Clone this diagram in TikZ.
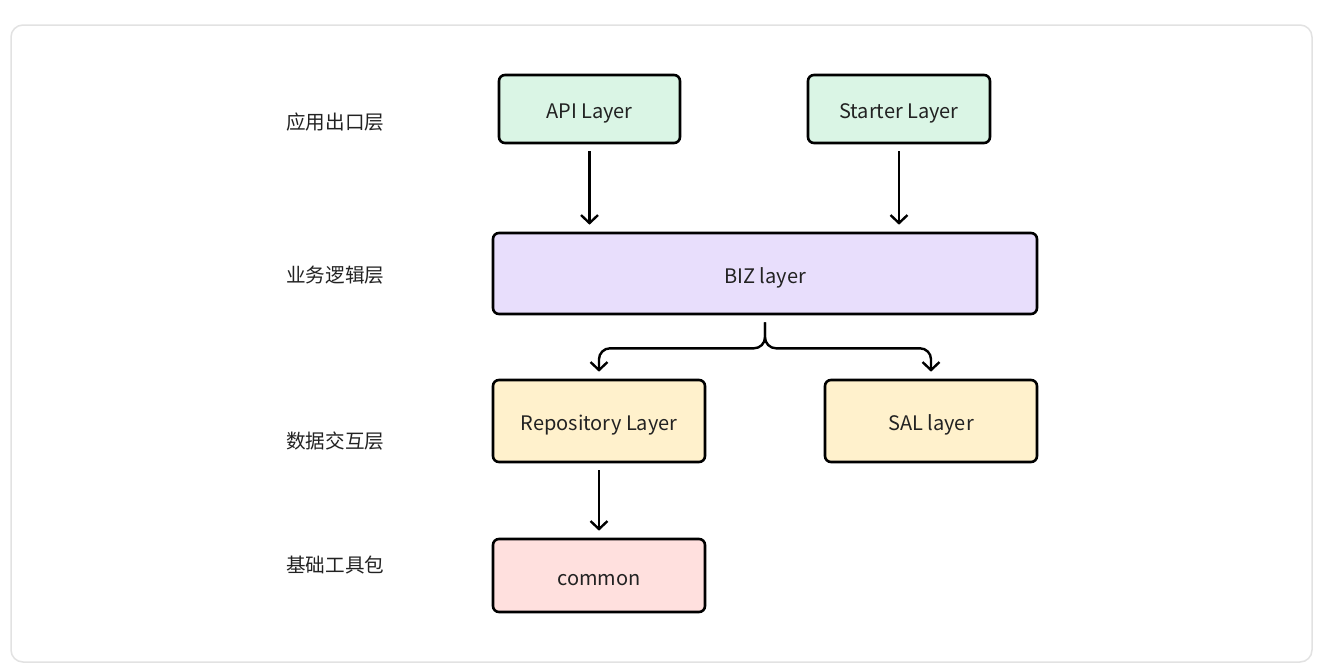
\documentclass[tikz,border=0pt]{standalone}
\usepackage{fontspec}
\setmainfont{Noto Sans CJK SC}
\usetikzlibrary{arrows.meta}
\definecolor{gfill}{HTML}{DAF5E5}
\definecolor{pfill}{HTML}{E8DEFC}
\definecolor{yfill}{HTML}{FFF1CC}
\definecolor{rfill}{HTML}{FFE0DE}
\definecolor{frame}{HTML}{E2E2E2}
\definecolor{txt}{HTML}{222222}
\tikzset{
  layerbox/.style={draw=black, line width=2.6pt, rounded corners=6pt, inner sep=0pt,
    text height=19pt, text depth=0pt,
    font=\fontsize{20}{24}\selectfont, text=txt},
  sidelabel/.style={anchor=west, inner sep=0pt, font=\fontsize{19.6}{24}\selectfont, text=txt},
  conn/.style={line width=2.4pt, -{Straight Barb[length=8pt,width=17pt,line width=2.4pt]}, shorten <=7pt, shorten >=7pt},
}
\begin{document}
\begin{tikzpicture}[x=1pt,y=-1pt]
\useasboundingbox (0,0) rectangle (1318,670);
\fill[white] (0,0) rectangle (1318,670);
\draw[frame, line width=1.5pt, rounded corners=12pt] (11,25) rectangle (1312,662);

\node[sidelabel] (l1) at (286,122) {应用出口层};
\node[sidelabel] (l2) at (286,275) {业务逻辑层};
\node[sidelabel] (l3) at (286,441) {数据交互层};
\node[sidelabel] (l4) at (286,565) {基础工具包};

\node[layerbox, fill=gfill, minimum width=181pt, minimum height=68pt] (api) at (589.5,109) {API Layer};
\node[layerbox, fill=gfill, minimum width=182pt, minimum height=68pt] (starter) at (899,109) {Starter Layer};
\node[layerbox, fill=pfill, minimum width=544pt, minimum height=81pt] (biz) at (765,273.5) {BIZ layer};
\node[layerbox, fill=yfill, minimum width=212pt, minimum height=82pt] (repo) at (599,421) {Repository Layer};
\node[layerbox, fill=yfill, minimum width=212pt, minimum height=82pt] (sal) at (931,421) {SAL layer};
\node[layerbox, fill=rfill, minimum width=212pt, minimum height=73pt] (common) at (599,575.5) {common};

\draw[conn] (api.south) -- (api.south |- biz.north);
\draw[conn] (starter.south) -- (starter.south |- biz.north);
\draw[conn] (repo.south) -- (common.north);
\draw[conn, rounded corners=11pt] (biz.south) -- ++(0,33) -| (repo.north);
\draw[conn, rounded corners=11pt] (biz.south) -- ++(0,33) -| (sal.north);
\end{tikzpicture}
\end{document}
